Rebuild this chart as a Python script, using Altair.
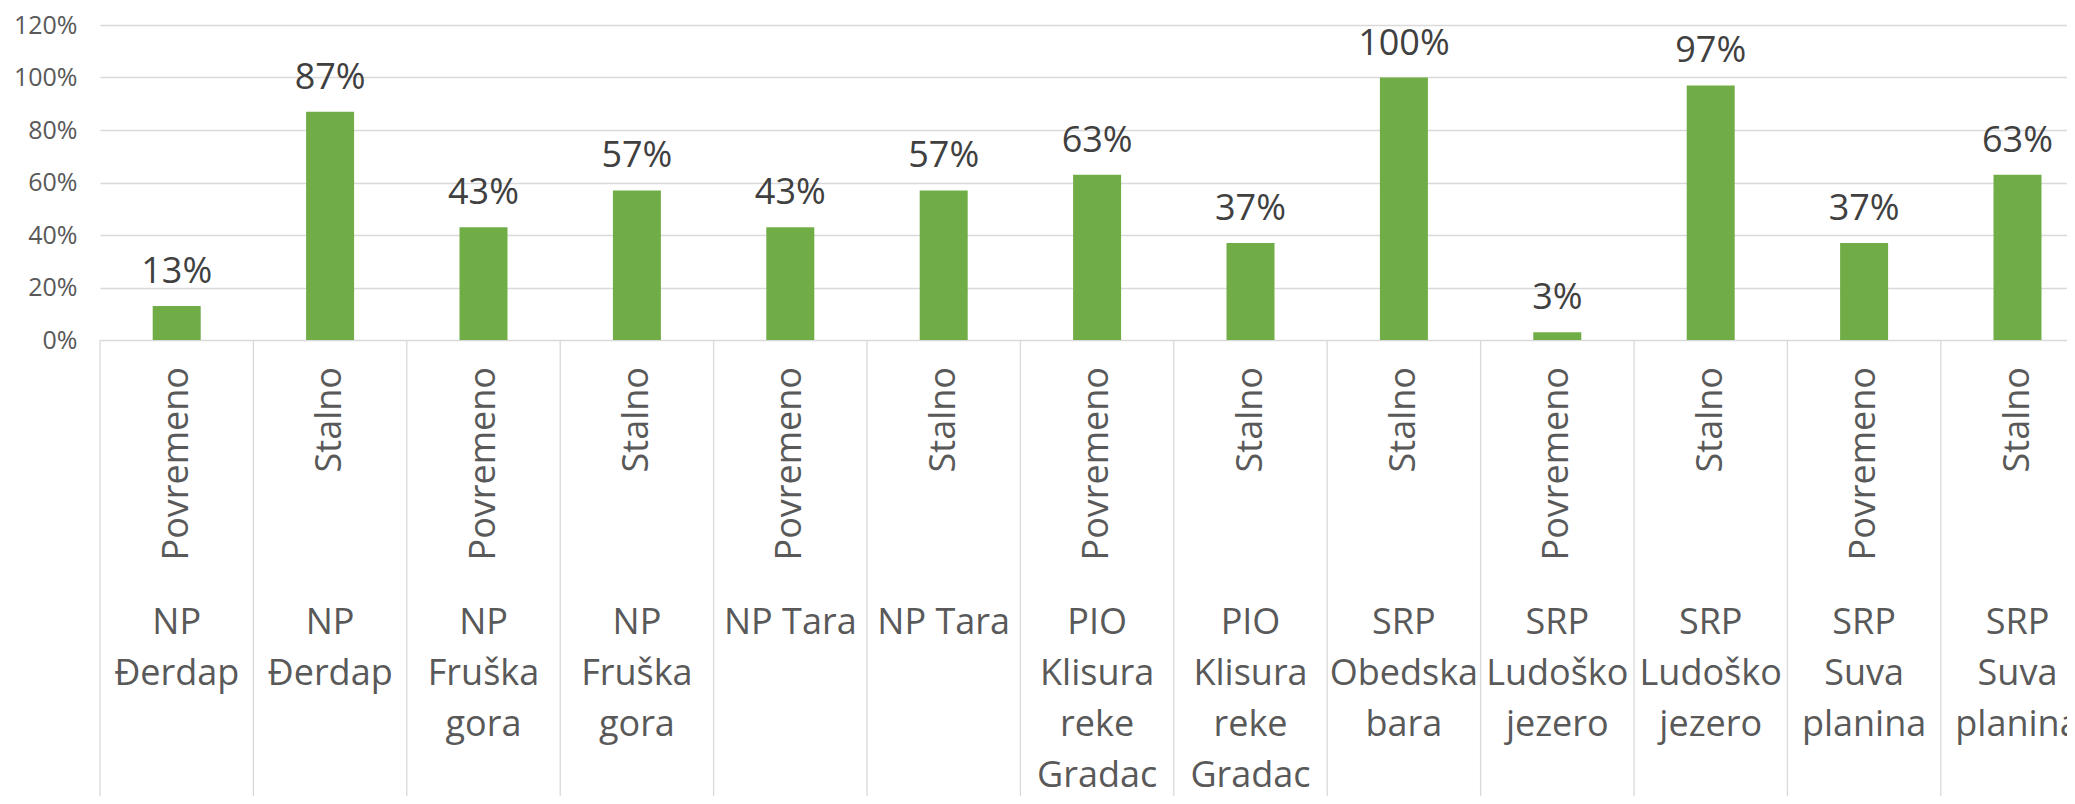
import altair as alt
import pandas as pd

# Data
sites = [
    "NP\nĐerdap", "NP\nĐerdap",
    "NP\nFruška\ngora", "NP\nFruška\ngora",
    "NP Tara", "NP Tara",
    "PIO\nKlisura\nreke\nGradac", "PIO\nKlisura\nreke\nGradac",
    "SRP\nObedska\nbara",
    "SRP\nLudoško\njezero", "SRP\nLudoško\njezero",
    "SRP\nSuva\nplanina", "SRP\nSuva\nplanina",
]
frequency = [
    "Povremeno", "Stalno",
    "Povremeno", "Stalno",
    "Povremeno", "Stalno",
    "Povremeno", "Stalno",
    "Stalno",
    "Povremeno", "Stalno",
    "Povremeno", "Stalno",
]
values = [0.13, 0.87, 0.43, 0.57, 0.43, 0.57, 0.63, 0.37, 1.00, 0.03, 0.97, 0.37, 0.63]
y_ticks = [0, 0.2, 0.4, 0.6, 0.8, 1.0, 1.2]

keys = [f"{s.replace(chr(10), ' ')} | {f}" for s, f in zip(sites, frequency)]
df = pd.DataFrame({"key": keys, "site": sites, "freq": frequency, "value": values})

FONT = "Open Sans"
W, H = 1967, 315
TOTAL_H = 788
TOP = 17

xscale = alt.Scale(domain=keys, range=[0, 1994.2], paddingInner=0, paddingOuter=0)
x_enc = alt.X("key:N", scale=xscale, axis=None, sort=keys)

base = alt.Chart(df)

bars = base.mark_bar(size=48, color="#70AD47").encode(
    x=x_enc,
    y=alt.Y(
        "value:Q",
        scale=alt.Scale(domain=[0, 1.2], nice=False),
        axis=alt.Axis(
            values=y_ticks, format=".0%", grid=True, gridColor="#D9D9D9",
            gridWidth=1.3, domain=False, ticks=False, labelFontSize=25,
            labelColor="#595959", labelFont=FONT, labelPadding=23, title=None,
        ),
    ),
)

labels = base.mark_text(
    dy=-23, baseline="alphabetic", align="center", fontSize=36,
    color="#404040", font=FONT,
).encode(
    x=x_enc,
    y=alt.Y("value:Q"),
    text=alt.Text("value:Q", format=".0%"),
)

dividers = base.mark_rule(color="#D9D9D9", strokeWidth=1.3).encode(
    x=alt.X("key:N", scale=xscale, axis=None, sort=keys, bandPosition=0),
    y=alt.value(H),
    y2=alt.value(TOTAL_H - TOP),
)

freq_text = base.mark_text(
    angle=270, align="right", baseline="middle", fontSize=36,
    color="#595959", font=FONT,
).encode(
    x=x_enc,
    y=alt.value(342),
    text="freq:N",
)

site_text = base.mark_text(
    lineBreak="\n", lineHeight=51, baseline="alphabetic", align="center",
    fontSize=36, color="#595959", font=FONT,
).encode(
    x=x_enc,
    y=alt.value(609),
    text="site:N",
)

chart = alt.layer(dividers, bars, labels, freq_text, site_text).properties(
    width=W,
    height=H,
    autosize=alt.AutoSizeParams(type="none"),
    padding={"left": 92, "top": TOP, "right": 0, "bottom": TOTAL_H - TOP - H},
    background="white",
).configure_view(stroke=None)

chart.save("out.html", embed_options={"renderer": "svg", "actions": False})
